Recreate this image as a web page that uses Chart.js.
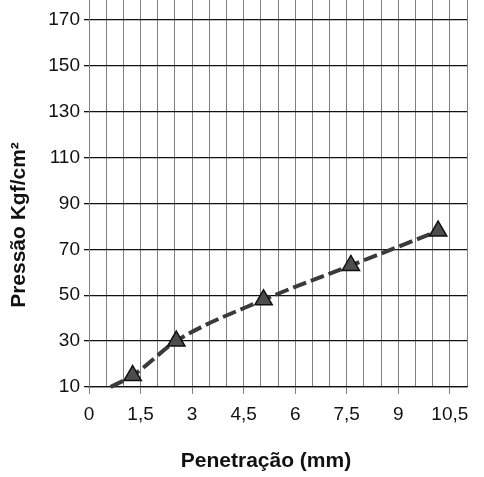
<!DOCTYPE html>
<html>
<head>
<meta charset="utf-8">
<script src="https://cdn.jsdelivr.net/npm/chart.js@4/dist/chart.umd.min.js"></script>
<style>
html,body{margin:0;padding:0;background:#fff;}
#wrap{width:484px;height:477px;position:relative;}
</style>
</head>
<body>
<div id="wrap"><canvas id="c" width="484" height="477"></canvas></div>
<script>
// Data
const penetration = [0.63, 1.27, 2.54, 5.08, 7.62, 10.16];   // mm
const pressure    = [10, 15, 30, 48, 63, 78];                 // Kgf/cm²
const markerShown = [false, true, true, true, true, true];
const yTicks = [10, 30, 50, 70, 90, 110, 130, 150, 170];
const xLabelTicks = [0, 1.5, 3, 4.5, 6, 7.5, 9, 10.5];
const xGridTicks = [0,0.5,1,1.5,2,2.5,3,3.5,4,4.5,5,5.5,6,6.5,7,7.5,8,8.5,9,9.5,10,10.5,11];
const xTitle = 'Penetração (mm)';
const yTitle = 'Pressão Kgf/cm²';

const FONT = '"Liberation Sans", Arial, sans-serif';
const isLabel = v => xLabelTicks.some(t => Math.abs(t - v) < 1e-6);

const titlesPlugin = {
  id: 'axisTitles',
  afterDraw(chart) {
    const ctx = chart.ctx;
    ctx.save();
    ctx.fillStyle = '#111';
    ctx.font = 'bold 21px ' + FONT;
    ctx.textAlign = 'center';
    ctx.textBaseline = 'middle';
    ctx.fillText(xTitle, 266, 461);
    ctx.translate(19, 225);
    ctx.rotate(-Math.PI / 2);
    ctx.fillText(yTitle, 0, 0);
    ctx.restore();
  }
};

new Chart(document.getElementById('c'), {
  type: 'scatter',
  data: {
    datasets: [{
      data: penetration.map((x, i) => ({x: x, y: pressure[i]})),
      showLine: true,
      borderColor: '#3a3a3a',
      borderWidth: 4,
      borderDash: [14, 5],
      cubicInterpolationMode: 'monotone',
      pointStyle: 'triangle',
      pointRadius: markerShown.map(s => s ? 10 : 0),
      pointHoverRadius: markerShown.map(s => s ? 10 : 0),
      pointBackgroundColor: '#4d4d4d',
      pointBorderColor: '#111',
      pointBorderWidth: 1.5,
      clip: false
    }]
  },
  options: {
    responsive: false,
    animation: false,
    events: [],
    layout: { autoPadding: false, padding: { left: 0, right: 17, top: 0, bottom: 0 } },
    plugins: { legend: { display: false }, tooltip: { enabled: false }, title: { display: false } },
    scales: {
      x: {
        type: 'linear',
        min: 0, max: 11,
        afterBuildTicks: s => { s.ticks = xGridTicks.map(v => ({value: v})); },
        afterFit: s => { s.height = 90; s.paddingLeft = 0; s.paddingRight = 0; },
        ticks: {
          autoSkip: false,
          maxRotation: 0,
          padding: 9,
          color: '#111',
          font: { family: FONT, size: 19 },
          callback: v => isLabel(v) ? String(v).replace('.', ',') : ''
        },
        grid: {
          color: '#808080',
          lineWidth: 1,
          tickLength: 7,
          tickColor: c => (c.tick && isLabel(c.tick.value)) ? '#808080' : 'rgba(0,0,0,0)'
        },
        border: { color: '#111', width: 1.3 }
      },
      y: {
        type: 'linear',
        min: 10, max: 178.7,
        afterBuildTicks: s => { s.ticks = yTicks.map(v => ({value: v})); },
        afterFit: s => { s.width = 89; s.paddingTop = 0; s.paddingBottom = 0; },
        ticks: {
          padding: 4,
          color: '#111',
          font: { family: FONT, size: 19 }
        },
        grid: {
          color: '#111',
          lineWidth: 1.3,
          tickLength: 5
        },
        border: { color: '#808080', width: 1 }
      }
    }
  },
  plugins: [titlesPlugin]
});
</script>
</body>
</html>
